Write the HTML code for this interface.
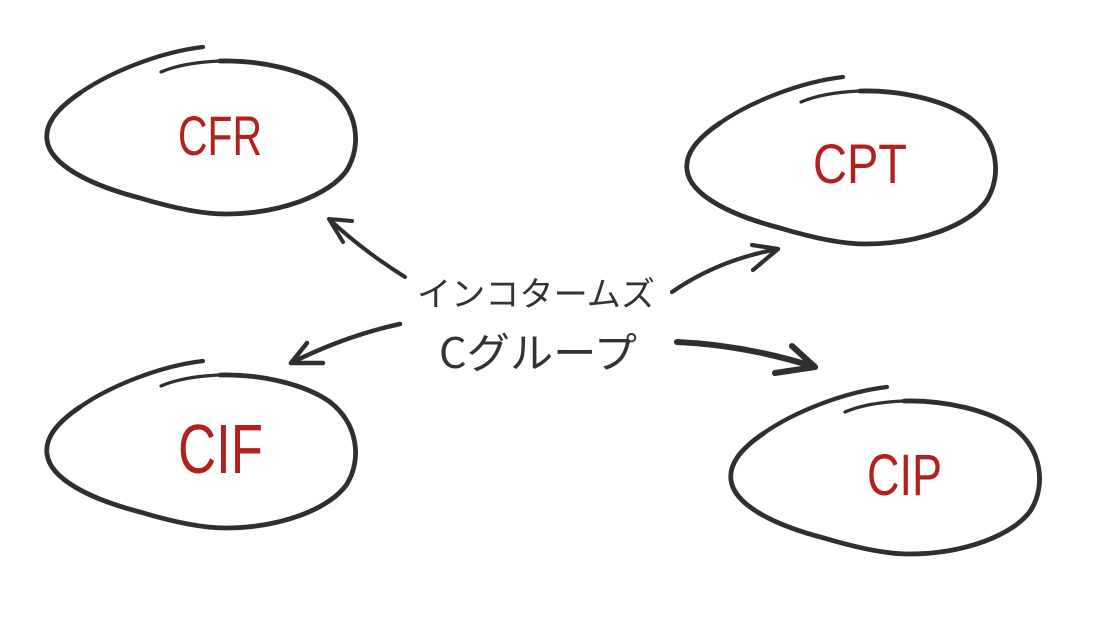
<!DOCTYPE html>
<html>
<head>
<meta charset="utf-8">
<style>
  html, body { margin: 0; padding: 0; background: #ffffff; }
  body { width: 1100px; height: 617px; overflow: hidden; }
  svg { display: block; }
  .node { font-family: "Liberation Sans", sans-serif; fill: #b3211e; }
  .center { font-family: "Noto Sans CJK JP", "Liberation Sans", sans-serif; fill: #333333; }
</style>
</head>
<body>
<svg width="1100" height="617" viewBox="0 0 1100 617" xmlns="http://www.w3.org/2000/svg">
  <defs>
    <g id="loop" fill="none" stroke="#2f2f2f" stroke-linecap="round" stroke-linejoin="round">
      <path d="M203,47 C160,52 110,72 80,93" stroke-width="4.2"/>
      <path d="M80,93 C55,110 45,125 47,140 C50,165 90,185 140,198 C170,207 200,214 225,214 C280,214 330,195 347,170 C362,145 358,110 330,88 C305,70 260,60 220,61" stroke-width="4.8"/>
      <path d="M220,61 C195,62 175,66 161,72" stroke-width="3.2"/>
    </g>
  </defs>

  <!-- Ellipses -->
  <use href="#loop" transform="translate(0,0)"/>
  <use href="#loop" transform="translate(640,30)"/>
  <use href="#loop" transform="translate(0,314)"/>
  <use href="#loop" transform="translate(684,340)"/>

  <!-- Node labels -->
  <text class="node" x="178" y="155" font-size="56" textLength="84" lengthAdjust="spacingAndGlyphs">CFR</text>
  <text class="node" x="813" y="183" font-size="56" textLength="94" lengthAdjust="spacingAndGlyphs">CPT</text>
  <text class="node" x="178" y="473" font-size="70" textLength="85" lengthAdjust="spacingAndGlyphs">CIF</text>
  <text class="node" x="867" y="495" font-size="58" textLength="75" lengthAdjust="spacingAndGlyphs">CIP</text>

  <!-- Center labels -->
  <text class="center" x="417" y="306" font-size="34" textLength="238" lengthAdjust="spacingAndGlyphs">インコタームズ</text>
  <text class="center" x="439" y="368" font-size="42" textLength="198" lengthAdjust="spacingAndGlyphs">Cグループ</text>

  <!-- Arrows -->
  <g fill="none" stroke="#2f2f2f" stroke-linecap="round" stroke-linejoin="round">
    <!-- to CFR -->
    <path d="M405,277 Q362,250 329,219" stroke-width="4"/>
    <path d="M352,221 L329,219 L343,242" stroke-width="4"/>
    <!-- to CPT -->
    <path d="M672,292 Q718,260 778,249" stroke-width="4.2"/>
    <path d="M752,245 L778,249 L753,270" stroke-width="4.2"/>
    <!-- to CIF -->
    <path d="M400,324 Q345,336 291,363" stroke-width="4.5"/>
    <path d="M307,343 L291,363 L323,363" stroke-width="4.5"/>
    <!-- to CIP -->
    <path d="M677,342 Q745,345 815,367" stroke-width="6"/>
    <path d="M792,346 L815,367 L775,373" stroke-width="6"/>
  </g>
</svg>
</body>
</html>
